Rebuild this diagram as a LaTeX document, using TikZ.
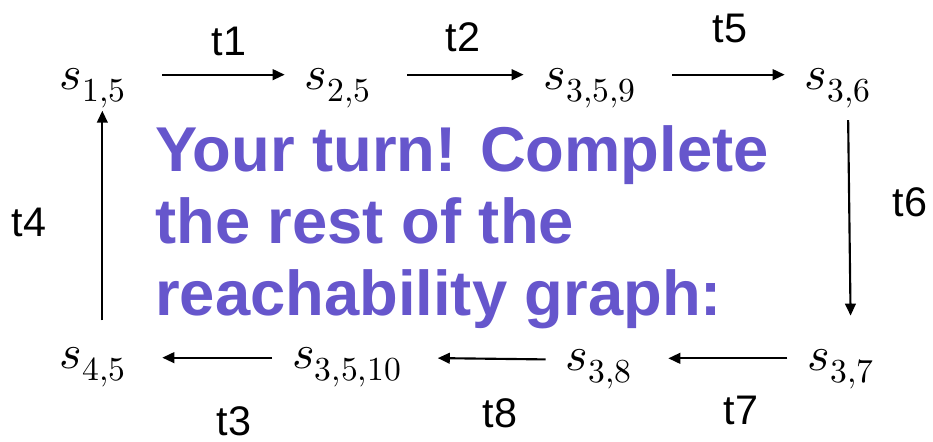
\documentclass[tikz,border=0pt]{standalone}
\usepackage{fontspec}
\usepackage{unicode-math}
\setmainfont{Liberation Sans}
\setmathfont{Latin Modern Math}
\usetikzlibrary{positioning,arrows.meta}
\definecolor{turnpurple}{HTML}{6656CC}

\begin{document}
\begin{tikzpicture}[x=0.75pt, y=-0.75pt,
        st/.style={inner sep=0pt, font=\fontsize{36}{40}\selectfont},
        tl/.style={inner sep=0pt, font=\fontsize{31}{34}\selectfont},
        arr/.style={-{Triangle[length=9pt, width=8pt]}, line width=1.6pt},
        fw/.style={arr, shorten <=27pt, shorten >=15pt},
        bw/.style={arr, shorten <=15pt, shorten >=27pt}]
      \useasboundingbox (0,0) rectangle (933,442);
      % states
      \node[st] (s15) at (93,88) {$s_{1,5}$};
      \node[st] (s25) at (338,88) {$s_{2,5}$};
      \node[st] (s359) at (590,88) {$s_{3,5,9}$};
      \node[st] (s36) at (838,88) {$s_{3,6}$};
      \node[st] (s45) at (93,367) {$s_{4,5}$};
      \node[st] (s3510) at (347,367) {$s_{3,5,10}$};
      \node[st] (s38) at (599,369) {$s_{3,8}$};
      \node[st] (s37) at (841,369) {$s_{3,7}$};
      % transitions
      \node[tl] (t1) at (229,41) {t1};
      \node[tl] (t2) at (463,37) {t2};
      \node[tl] (t5) at (730,28) {t5};
      \node[tl] (t6) at (910,202) {t6};
      \node[tl] (t7) at (741,410) {t7};
      \node[tl] (t8) at (500,413) {t8};
      \node[tl] (t3) at (234,421) {t3};
      \node[tl] (t4) at (29,222) {t4};
      \draw[fw] ([yshift=10pt]s15.east) -- ([yshift=10pt]s25.west);
      \draw[fw] ([yshift=10pt]s25.east) -- ([yshift=10pt]s359.west);
      \draw[fw] ([yshift=10pt]s359.east) -- ([yshift=10pt]s36.west);
      \draw[arr, shorten <=9pt, shorten >=25pt] ([xshift=7.5pt]s36.south) -- ([xshift=7.5pt]s37.north);
      \draw[bw] ([yshift=8pt]s37.west) -- ([yshift=8pt]s38.east);
      \draw[bw] ([yshift=7pt]s38.west) -- ([yshift=7pt]s3510.east);
      \draw[bw] ([yshift=7pt]s3510.west) -- ([yshift=7pt]s45.east);
      \draw[arr, shorten <=20pt, shorten >=2pt] ([xshift=7pt]s45.north) -- ([xshift=7pt]s15.south);
      \node[anchor=north west, align=left, inner sep=0pt, text=turnpurple,
            font=\fontsize{47.5}{54}\selectfont\bfseries] (turn) at (155,125)
            {Your turn! Complete\\the rest of the\\reachability graph:};
      \end{tikzpicture}
\end{document}
